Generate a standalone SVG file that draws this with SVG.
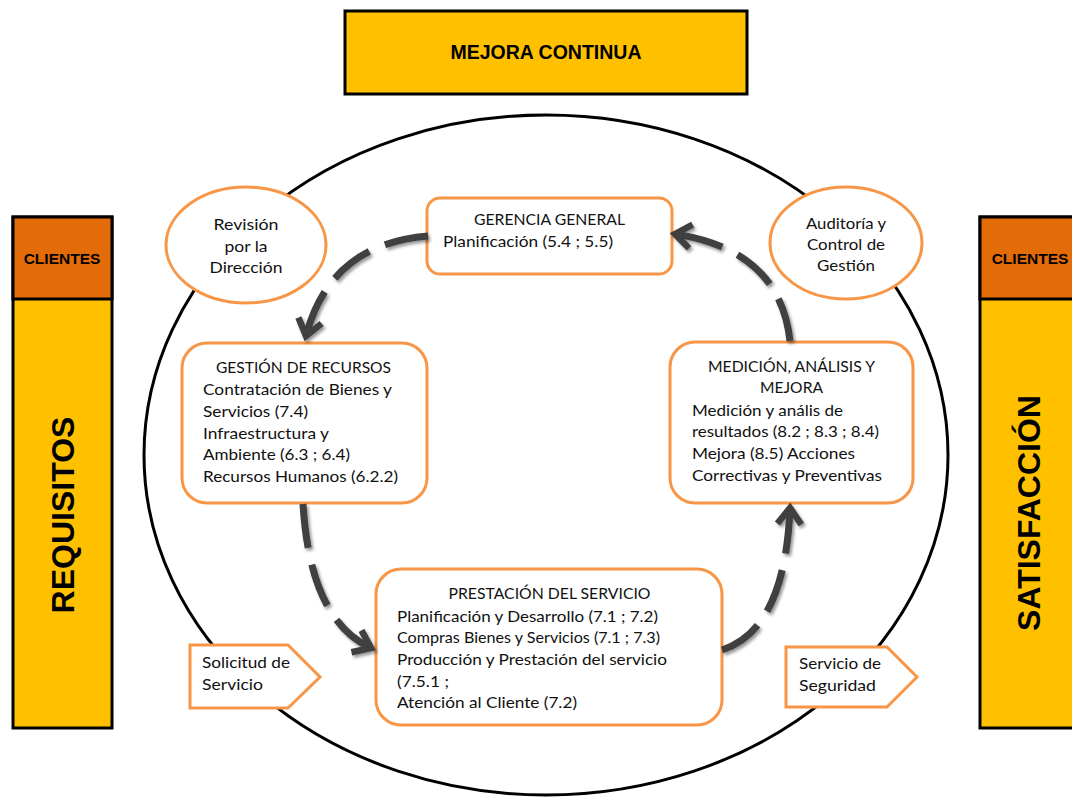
<svg xmlns="http://www.w3.org/2000/svg" width="1072" height="807" viewBox="0 0 1072 807">
  <style>
    .band { fill: #FFC000; stroke: #000; stroke-width: 3; }
    .head { fill: #E36C09; stroke: #000; stroke-width: 3; }
    .hdr { font-family: "Liberation Sans", Arial, sans-serif; font-weight: bold; fill: #000; }
    .node { fill: #fff; stroke: #F79646; stroke-width: 3; }
    .t { font-family: Lato, "Noto Sans", sans-serif; font-size: 15px; fill: #111; }
    .c { text-anchor: middle; }
    .flow { fill: none; stroke: #404040; stroke-width: 7; stroke-dasharray: 44 17; }
  </style>
  <defs>
    <filter id="soft" x="-20%" y="-20%" width="140%" height="140%">
      <feDropShadow dx="2" dy="2.5" stdDeviation="1.6" flood-color="#000" flood-opacity="0.4"/>
    </filter>
    <marker id="arrow" markerUnits="userSpaceOnUse" orient="auto" markerWidth="30" markerHeight="30" refX="0" refY="0" viewBox="-20 -15 30 30" overflow="visible">
      <path d="M-16,-12 L0,0 L-16,12" fill="none" stroke="#404040" stroke-width="6.5" stroke-linejoin="miter"/>
    </marker>
  </defs>

  <rect width="1072" height="807" fill="#fff"/>

  <!-- outer cycle -->
  <ellipse cx="546" cy="455" rx="402" ry="340" fill="none" stroke="#000" stroke-width="3"/>

  <!-- top banner -->
  <g id="mejora-continua">
    <rect class="band" x="345" y="11" width="402" height="83"/>
    <text class="hdr" x="546" y="59" font-size="19.5" text-anchor="middle">MEJORA CONTINUA</text>
  </g>

  <!-- left column -->
  <g id="clientes-requisitos">
    <rect class="band" x="13" y="217" width="99" height="511"/>
    <rect class="head" x="13" y="217" width="99" height="82"/>
    <text class="hdr" x="62" y="264" font-size="15.5" text-anchor="middle">CLIENTES</text>
    <text class="hdr" font-size="32" text-anchor="middle" transform="translate(74,515) rotate(-90)">REQUISITOS</text>
  </g>

  <!-- right column -->
  <g id="clientes-satisfaccion">
    <rect class="band" x="980" y="217" width="100" height="511"/>
    <rect class="head" x="980" y="217" width="100" height="82"/>
    <text class="hdr" x="1030" y="264" font-size="15.5" text-anchor="middle">CLIENTES</text>
    <text class="hdr" font-size="32" text-anchor="middle" transform="translate(1040,513) rotate(-90)">SATISFACCIÓN</text>
  </g>

  <g id="revision-direccion">
    <ellipse class="node" cx="246" cy="245" rx="80" ry="58"/>
    <text class="t c" x="246" y="230" textLength="65" lengthAdjust="spacingAndGlyphs">Revisión</text>
    <text class="t c" x="246" y="252" textLength="43" lengthAdjust="spacingAndGlyphs">por la</text>
    <text class="t c" x="246" y="273" textLength="73" lengthAdjust="spacingAndGlyphs">Dirección</text>
  </g>

  <g id="auditoria-control">
    <ellipse class="node" cx="846" cy="243" rx="76" ry="56"/>
    <text class="t c" x="846" y="229" textLength="80" lengthAdjust="spacingAndGlyphs">Auditoría y</text>
    <text class="t c" x="846" y="250" textLength="78" lengthAdjust="spacingAndGlyphs">Control de</text>
    <text class="t c" x="846" y="271" textLength="58" lengthAdjust="spacingAndGlyphs">Gestión</text>
  </g>

  <g id="gerencia-general">
    <rect class="node" x="427" y="198" width="245" height="76" rx="13"/>
    <text class="t c" x="549.5" y="225" textLength="151" lengthAdjust="spacingAndGlyphs">GERENCIA GENERAL</text>
    <text class="t" x="443" y="247" textLength="170" lengthAdjust="spacingAndGlyphs">Planificación (5.4 ; 5.5)</text>
  </g>

  <g id="gestion-recursos">
    <rect class="node" x="182" y="343" width="245" height="160" rx="25"/>
    <text class="t" x="216" y="373" textLength="175" lengthAdjust="spacingAndGlyphs">GESTIÓN DE RECURSOS</text>
    <text class="t" x="203" y="395" textLength="189" lengthAdjust="spacingAndGlyphs">Contratación de Bienes y</text>
    <text class="t" x="203" y="417" textLength="105" lengthAdjust="spacingAndGlyphs">Servicios (7.4)</text>
    <text class="t" x="203" y="439" textLength="126" lengthAdjust="spacingAndGlyphs">Infraestructura y</text>
    <text class="t" x="203" y="460" textLength="147" lengthAdjust="spacingAndGlyphs">Ambiente (6.3 ; 6.4)</text>
    <text class="t" x="203" y="482" textLength="195" lengthAdjust="spacingAndGlyphs">Recursos Humanos (6.2.2)</text>
  </g>

  <g id="medicion-analisis-mejora">
    <rect class="node" x="670" y="342" width="243" height="161" rx="25"/>
    <text class="t c" x="791.5" y="372" textLength="167" lengthAdjust="spacingAndGlyphs">MEDICIÓN, ANÁLISIS Y</text>
    <text class="t c" x="791.5" y="393" textLength="63" lengthAdjust="spacingAndGlyphs">MEJORA</text>
    <text class="t" x="692" y="416" textLength="151" lengthAdjust="spacingAndGlyphs">Medición y anális de</text>
    <text class="t" x="692" y="437" textLength="187" lengthAdjust="spacingAndGlyphs">resultados (8.2 ; 8.3 ; 8.4)</text>
    <text class="t" x="692" y="459" textLength="163" lengthAdjust="spacingAndGlyphs">Mejora (8.5) Acciones</text>
    <text class="t" x="692" y="481" textLength="190" lengthAdjust="spacingAndGlyphs">Correctivas y Preventivas</text>
  </g>

  <g id="prestacion-servicio">
    <rect class="node" x="376" y="569" width="346" height="156" rx="25"/>
    <text class="t c" x="549.5" y="599" textLength="202" lengthAdjust="spacingAndGlyphs">PRESTACIÓN DEL SERVICIO</text>
    <text class="t" x="397" y="622" textLength="261" lengthAdjust="spacingAndGlyphs">Planificación y Desarrollo (7.1 ; 7.2)</text>
    <text class="t" x="397" y="643" textLength="263" lengthAdjust="spacingAndGlyphs">Compras Bienes y Servicios (7.1 ; 7.3)</text>
    <text class="t" x="397" y="665" textLength="270" lengthAdjust="spacingAndGlyphs">Producción y Prestación del servicio</text>
    <text class="t" x="397" y="687" textLength="52" lengthAdjust="spacingAndGlyphs">(7.5.1 ;</text>
    <text class="t" x="397" y="708" textLength="180" lengthAdjust="spacingAndGlyphs">Atención al Cliente (7.2)</text>
  </g>

  <g id="solicitud-servicio">
    <polygon class="node" points="190,645 288,645 320,677 288,708 190,708"/>
    <text class="t" x="202" y="668" textLength="88" lengthAdjust="spacingAndGlyphs">Solicitud de</text>
    <text class="t" x="202" y="690" textLength="61" lengthAdjust="spacingAndGlyphs">Servicio</text>
  </g>

  <g id="servicio-seguridad">
    <polygon class="node" points="786,647 887,647 917,677 887,707 786,707"/>
    <text class="t" x="799" y="669" textLength="82" lengthAdjust="spacingAndGlyphs">Servicio de</text>
    <text class="t" x="799" y="691" textLength="77" lengthAdjust="spacingAndGlyphs">Seguridad</text>
  </g>

  <!-- process loop connectors -->
  <g id="connectors" filter="url(#soft)">
    <path class="flow" d="M428,236 Q330,244 306,336" marker-end="url(#arrow)"/>
    <path class="flow" d="M303,504 Q310,620 371,648" marker-end="url(#arrow)"/>
    <path class="flow" d="M722,650 Q785,630 790,508" marker-end="url(#arrow)"/>
    <path class="flow" d="M790,341 Q780,250 675,234" marker-end="url(#arrow)"/>
  </g>
</svg>
